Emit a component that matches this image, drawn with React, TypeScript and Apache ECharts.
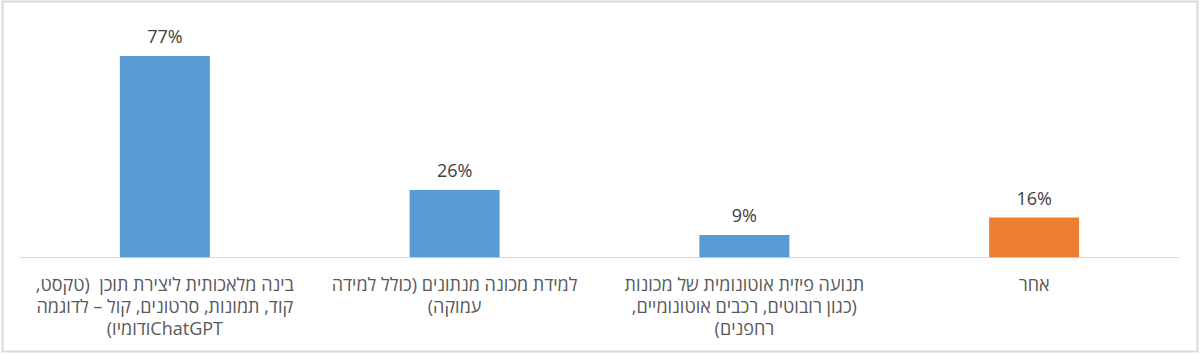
import React, { useEffect, useRef } from "react";
import * as echarts from "echarts";

const categories: string[] = [
  "בינה מלאכותית ליצירת תוכן  (טקסט,\nקוד, תמונות, סרטונים, קול – לדוגמה\nChatGPTודומיו)",
  "למידת מכונה מנתונים (כולל למידה\nעמוקה)",
  "תנועה פיזית אוטונומית של מכונות\n(כגון רובוטים, רכבים אוטונומיים,\nרחפנים)",
  "אחר",
];
const values: number[] = [77, 25.7, 8.5, 15.2];
const valueLabels: string[] = ["77%", "26%", "9%", "16%"];
const barColors: string[] = ["#5b9bd5", "#5b9bd5", "#5b9bd5", "#ed7d31"];

export default function App() {
  const ref = useRef<HTMLDivElement>(null);
  useEffect(() => {
    if (!ref.current) return;
    const chart = echarts.init(ref.current, undefined, { renderer: "svg" });
    chart.setOption({
      animation: false,
      backgroundColor: "#ffffff",
      textStyle: { fontFamily: "'Open Sans', 'DejaVu Sans', sans-serif" },
      graphic: [
        {
          type: "rect",
          shape: { x: 2.5, y: 1.5, width: 1195, height: 350 },
          style: { fill: "none", stroke: "#d9d9d9", lineWidth: 2 },
          silent: true,
        },
      ],
      grid: { left: 20, right: 21, top: 22, bottom: 96.7 },
      xAxis: {
        type: "category",
        data: categories,
        axisLine: { show: true, lineStyle: { color: "#d9d9d9", width: 1 } },
        axisTick: { show: false },
        axisLabel: {
          interval: 0,
          color: "#595959",
          fontSize: 18,
          lineHeight: 22,
          margin: 16,
          align: "center",
        },
      },
      yAxis: {
        type: "value",
        min: 0,
        max: 90,
        show: false,
        splitLine: { show: false },
      },
      series: [
        {
          type: "bar",
          barWidth: 90,
          data: values.map((v, i) => ({
            value: v,
            itemStyle: { color: barColors[i] },
          })),
          label: {
            show: true,
            position: "top",
            distance: 11,
            color: "#404040",
            fontSize: 18,
            lineHeight: 18,
            formatter: (p: any) => valueLabels[p.dataIndex],
          },
        },
      ],
    });
    return () => chart.dispose();
  }, []);
  return (
    <div
      ref={ref}
      style={{
        position: "absolute",
        left: 0,
        top: 0,
        width: 1200,
        height: 354,
        direction: "rtl",
      }}
    />
  );
}
